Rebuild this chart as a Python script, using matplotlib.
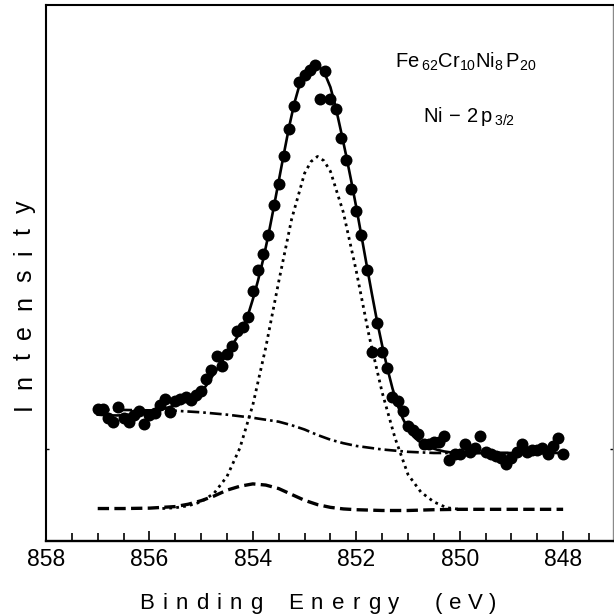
import numpy as np
import matplotlib
matplotlib.use("Agg")
import matplotlib.pyplot as plt
from matplotlib.ticker import MultipleLocator
from matplotlib.font_manager import FontProperties
from matplotlib.textpath import TextToPath

plt.rcParams["font.family"] = ["Liberation Sans", "DejaVu Sans"]
plt.rcParams["mathtext.fontset"] = "custom"
plt.rcParams["mathtext.rm"] = "Liberation Sans"
plt.rcParams["mathtext.it"] = "Liberation Sans"
plt.rcParams["mathtext.default"] = "regular"

# ---- measured spectrum (0.1 eV step) ----
energy = np.round(np.arange(857.0, 847.95, -0.1), 1)
counts = [338, 338, 315, 305, 343, 315, 305, 323, 333, 298,
          323, 328, 348, 363, 331, 358, 363, 368, 361, 373,
          383, 413, 438, 473, 448, 478, 498, 538, 548, 573,
          638, 693, 733, 783, 858, 913, 983, 1053, 1113, 1173,
          1191, 1205, 1218, 1130, 1201, 1130, 1105, 1030, 973, 900,
          843, 783, 693, 483, 558, 483, 443, 368, 358, 333,
          293, 283, 273, 248, 248, 253, 253, 268, 208, 223,
          223, 248, 228, 238, 268, 228, 223, 218, 213, 198,
          213, 228, 248, 228, 233, 233, 238, 223, 243, 263,
          223]

# ---- total fitted envelope ----
fit_total = [323, 322, 321, 321, 321, 322, 323, 324, 326, 328,
             330, 332, 335, 339, 343, 347, 352, 358, 365, 372,
             380, 398, 418, 438, 458, 479, 500, 522, 546, 575,
             618, 666, 720, 782, 850, 920, 990, 1058, 1118, 1165,
             1195, 1211, 1217, 1210, 1192, 1160, 1110, 1050, 988, 922,
             853, 780, 706, 633, 563, 500, 442, 390, 347, 313,
             287, 268, 256, 248, 242, 236, 232, 229, 227, 226,
             225, 225, 225, 225, 225, 225, 225, 225, 225, 225,
             225, 225, 225, 225, 225, 225, 225, 225, 225, 225,
             225]

# ---- main Ni 2p3/2 component (dotted) ----
main_e = [855.75, 855.5, 855.25, 855.0, 854.75, 854.5, 854.25, 854.0, 853.75,
          853.5, 853.25, 853.0, 852.875, 852.75, 852.625, 852.5, 852.25, 852.0,
          851.75, 851.5, 851.25, 851.0, 850.75, 850.5, 850.25, 850.0]
main_v = [83, 85, 90, 100, 122, 165, 238, 348, 495,
          663, 823, 940, 970, 983, 972, 945, 840, 690,
          523, 380, 263, 170, 125, 100, 85, 81]

# ---- minor component (dashed) ----
minor_e = [857.0, 856.5, 856.0, 855.5, 855.25, 855.0, 854.75, 854.5, 854.25, 854.0,
           853.75, 853.5, 853.25, 853.0, 852.75, 852.5, 852.25, 852.0, 851.5, 851.0,
           850.5, 850.0, 849.0, 848.0]
minor_v = [83, 83, 84, 88, 94, 103, 115, 130, 140, 146,
           143, 134, 119, 104, 93, 86, 82, 80, 78, 78,
           80, 81, 81, 81]

# ---- background (dash-dot) ----
bg_e = [857.0, 856.5, 856.0, 855.5, 855.0, 854.5, 854.0, 853.5, 853.25, 853.0,
        852.75, 852.5, 852.25, 852.0, 851.5, 851.0, 850.5, 850.0, 849.0, 848.0]
bg_v = [335, 335, 334, 333, 329, 323, 315, 305, 296, 285,
        271, 259, 250, 243, 234, 228, 225, 225, 225, 225]

x_ticks = [858, 856, 854, 852, 850, 848]

W = H = 614
fig = plt.figure(figsize=(W / 100, H / 100), dpi=100)
ax = fig.add_axes([46 / W, 73 / H, 567.3 / W, 536.3 / H])

ax.plot(bg_e, bg_v, color="black", lw=1.9, linestyle=(0, (4.5, 1.5, 1, 1.5)), zorder=2)
ax.plot(minor_e, minor_v, color="black", lw=2.4, linestyle=(0, (3.4, 1.6)), zorder=2)
ax.plot(main_e, main_v, color="black", lw=2.0, linestyle=(0, (1, 1.5)), zorder=2)
ax.plot(energy, fit_total, color="black", lw=1.9, zorder=3)
ax.plot(energy, counts, "o", color="black", ms=8.6, mew=0, zorder=4)

ax.set_xlim(858, 847.03)
ax.set_ylim(0, 1371)
ax.set_xticks(x_ticks)
ax.set_xticklabels([str(t) for t in x_ticks])
ax.xaxis.set_minor_locator(MultipleLocator(0.5))
ax.tick_params(axis="x", which="major", direction="in", length=7, width=1.2,
               labelsize=16.5, pad=5)
ax.tick_params(axis="x", which="minor", direction="in", length=5.5, width=1.2)
ax.set_yticks([234])
ax.tick_params(axis="y", direction="in", length=2.5, width=1, labelleft=False,
               right=True)

for side, lw, col in [("left", 1.5, "black"), ("top", 1.5, "black"),
                      ("bottom", 1.7, "black"), ("right", 1.0, "#8a8a8a")]:
    ax.spines[side].set_linewidth(lw)
    ax.spines[side].set_color(col)

# composition and core level annotation
fig.text(395 / W, 1 - 68 / H, r"Fe$\,_{62}$Cr$_{10}$Ni$_{8}\,$P$_{20}$",
         fontsize=14.5, ha="left", va="baseline")
fig.text(423 / W, 1 - 122 / H, r"Ni$\,-\,$2$\,$p$\,_{3/2}$",
         fontsize=14.5, ha="left", va="baseline")


def spaced_text(s, x_px, y_px, size, gap_px, vertical=False):
    """Lay out a word glyph by glyph with extra tracking (pixel coords from top-left)."""
    fp = FontProperties(family="Liberation Sans", size=size)
    ttp = TextToPath()
    k = fig.dpi / 72
    pos = 0.0
    for ch in s:
        w = ttp.get_text_width_height_descent(ch, fp, ismath=False)[0] * k
        if vertical:
            fig.text(x_px / W, 1 - (y_px - pos) / H, ch, rotation=90,
                     rotation_mode="anchor", ha="left", va="baseline",
                     fontproperties=fp)
        else:
            fig.text((x_px + pos) / W, 1 - y_px / H, ch, ha="left",
                     va="baseline", fontproperties=fp)
        pos += w + gap_px


spaced_text("Binding", 139, 609, 16, 8.2)
spaced_text("Energy", 288, 609, 16, 8.2)
spaced_text("(eV)", 435, 609, 16, 6.5)
spaced_text("Intensity", 31, 410, 18, 14.5, vertical=True)

fig.savefig("out.png", dpi=100)
